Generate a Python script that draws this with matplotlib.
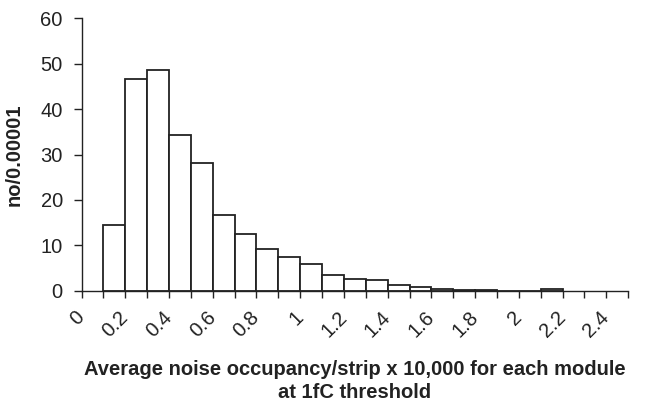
import numpy as np
import matplotlib.pyplot as plt

plt.rcParams['font.family'] = ['Liberation Sans', 'DejaVu Sans']

# histogram of average noise occupancy, bin edges every 0.1
bin_left = [0.1, 0.2, 0.3, 0.4, 0.5, 0.6, 0.7, 0.8, 0.9, 1.0, 1.1,
            1.2, 1.3, 1.4, 1.5, 1.6, 1.7, 1.8, 1.9, 2.0, 2.1]
counts = [14.6, 46.7, 48.6, 34.4, 28.1, 16.7, 12.5, 9.2, 7.4, 5.9, 3.4,
          2.6, 2.3, 1.4, 0.8, 0.45, 0.3, 0.3, 0.0, 0.0, 0.4]
bin_width = 0.1

tick_pos = [round(0.1 * i, 1) for i in range(26)]
tick_text = ["0", "", "0.2", "", "0.4", "", "0.6", "", "0.8", "", "1", "",
             "1.2", "", "1.4", "", "1.6", "", "1.8", "", "2", "", "2.2", "",
             "2.4", ""]

fig = plt.figure(figsize=(6.47, 4.04), dpi=100)
ax = fig.add_axes([0.126, 0.280, 0.845, 0.675])

ax.bar(bin_left, counts, width=bin_width, align='edge',
       facecolor='white', edgecolor='#222222', linewidth=1.3)

ax.set_xlim(0, 2.5)
ax.set_ylim(0, 60)
ax.set_yticks([0, 10, 20, 30, 40, 50, 60])
ax.set_xticks(tick_pos)
ax.set_xticklabels(tick_text, rotation=45, ha='right', va='center',
                   rotation_mode='anchor')

for side in ['top', 'right']:
    ax.spines[side].set_visible(False)
for side in ['left', 'bottom']:
    ax.spines[side].set_linewidth(1.0)
    ax.spines[side].set_color('#222222')

ax.tick_params(axis='both', direction='out', width=1.0,
               color='#222222', labelsize=14.5, labelcolor='#222222')
ax.tick_params(axis='y', length=5.5, pad=8)
ax.tick_params(axis='x', length=5, pad=12)

ax.set_ylabel("no/0.00001", fontsize=14.5, fontweight='bold', color='#222222')
ax.yaxis.set_label_coords(-0.106, 0.5)
ax.set_xlabel("Average noise occupancy/strip x 10,000 for each module\nat 1fC threshold",
              fontsize=14.5, fontweight='bold', color='#222222', linespacing=1.3)
ax.xaxis.set_label_coords(0.5, -0.253)

fig.savefig("out.png", dpi=100)
